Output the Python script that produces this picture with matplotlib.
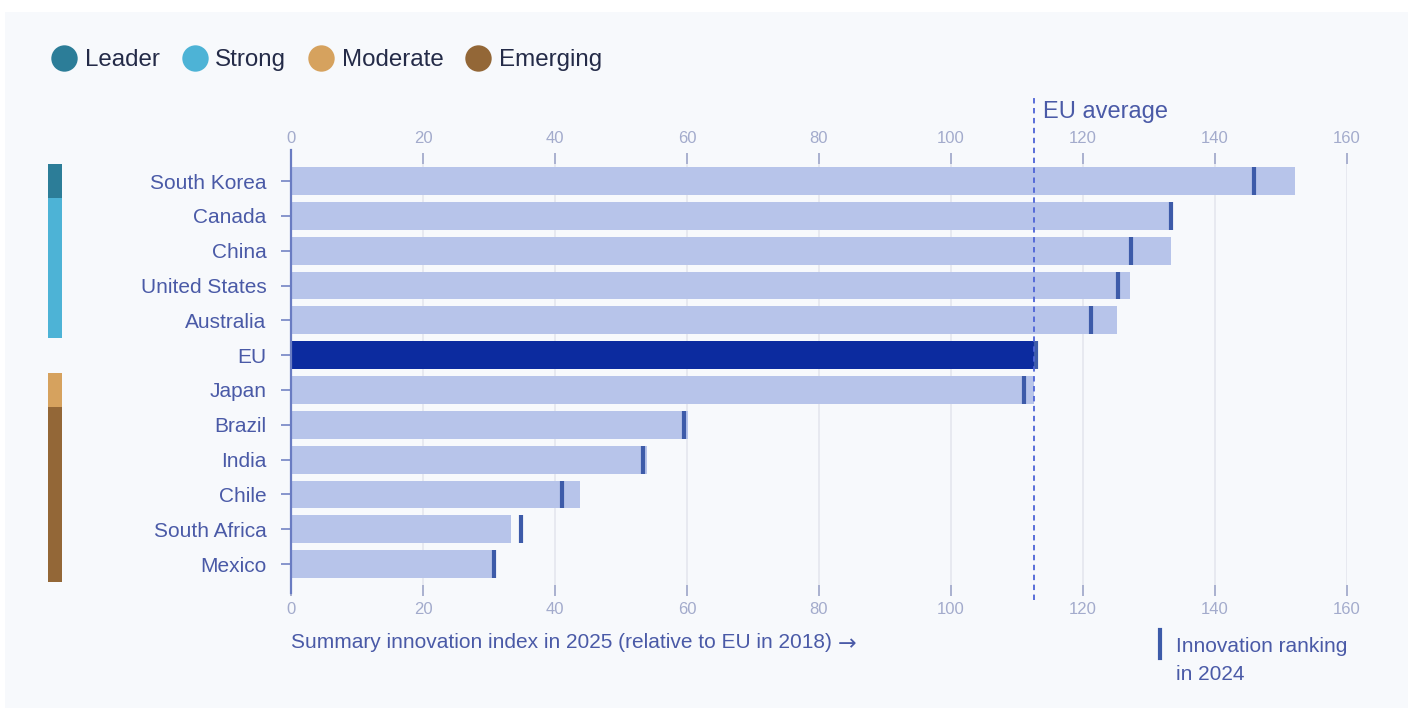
import numpy as np
import matplotlib.pyplot as plt
from matplotlib.patches import Rectangle
from matplotlib.lines import Line2D
import matplotlib.transforms as mtransforms

plt.rcParams['font.family'] = ['Liberation Sans', 'DejaVu Sans']

# Summary innovation index 2025 and 2024 ranking marker, top to bottom
countries = ['South Korea', 'Canada', 'China', 'United States', 'Australia', 'EU',
             'Japan', 'Brazil', 'India', 'Chile', 'South Africa', 'Mexico']
index_2025 = [152.1, 133.6, 133.3, 127.1, 125.1, 112.6, 112.5, 60.2, 54.0, 43.8, 33.3, 31.1]
rank_2024 = [145.9, 133.4, 127.3, 125.3, 121.2, 112.9, 111.0, 59.6, 53.4, 41.1, 34.9, 30.8]
group = ['Leader', 'Strong', 'Strong', 'Strong', 'Strong', None,
         'Moderate', 'Emerging', 'Emerging', 'Emerging', 'Emerging', 'Emerging']

group_names = ['Leader', 'Strong', 'Moderate', 'Emerging']
group_colors = {'Leader': '#2c7d98', 'Strong': '#4db3d6',
                'Moderate': '#d6a25e', 'Emerging': '#936737'}
xticks = [0, 20, 40, 60, 80, 100, 120, 140, 160]

bar_color = '#b7c4ea'
eu_color = '#0c2b9f'
mark_color = '#3d5ba9'
label_color = '#4a5aa7'
tick_color = '#a3abcc'

W, H = 1413, 711
fig = plt.figure(figsize=(W / 100, H / 100), dpi=100, facecolor='white')

# light panel behind everything
fig.patches.append(Rectangle((5 / W, 1 - 708 / H), 1403 / W, 696 / H,
                             transform=fig.transFigure, facecolor='#f7f9fc',
                             edgecolor='none', zorder=-10))

ax = fig.add_axes([291 / W, 1 - 585 / H, 1056 / W, 421 / H])
ax.set_facecolor('none')

y = np.arange(len(countries))
colors = [eu_color if c == 'EU' else bar_color for c in countries]
ax.barh(y, index_2025, height=0.8, color=colors, zorder=2)
ax.vlines(rank_2024, y - 0.4, y + 0.4, color=mark_color, lw=3, zorder=3)

ax.set_xlim(0, 160)
ax.set_ylim(11.6, -0.49)
ax.set_yticks(y)
ax.set_yticklabels(countries, fontsize=15, color=label_color)
ax.tick_params(axis='y', length=7, width=1.2, color='#7384c4', pad=10.5)

# bottom axis ticks
ax.set_xticks(xticks)
ax.tick_params(axis='x', length=8, width=1.3, color=tick_color, labelcolor=tick_color,
               labelsize=12, pad=4.3, direction='out')
# top axis ticks
top = ax.secondary_xaxis('top')
top.set_xticks(xticks)
top.tick_params(axis='x', length=8, width=1.3, color=tick_color, labelcolor=tick_color,
                labelsize=12, pad=5, direction='out')
top.spines['top'].set_visible(False)

for t in xticks[1:]:
    ax.axvline(t, color='#e4e6ee', lw=1.2, zorder=0)

for s in ax.spines.values():
    s.set_visible(False)
ax.add_line(Line2D([0, 0], [-0.89, 11.84], color='#6a7cc2', lw=1.6, clip_on=False, zorder=4))

# EU average reference line
eu_val = index_2025[countries.index('EU')]
trans = mtransforms.blended_transform_factory(ax.transData, ax.transAxes)
ax.add_line(Line2D([eu_val, eu_val], [-0.036, 1.159], transform=trans, color='#4d63d6',
                   lw=1.3, ls=(0, (3, 2.5)), clip_on=False, zorder=5))
ax.text(eu_val + 1.3, 1.124, 'EU average', transform=trans, fontsize=17,
        color=label_color, ha='left', va='center')

# group strip on the left
strip = mtransforms.blended_transform_factory(fig.transFigure, ax.transData)
for i, g in enumerate(group):
    if g is None:
        continue
    fig.patches.append(Rectangle((48 / W, i - 0.5), 14 / W, 1.0, transform=strip,
                                 facecolor=group_colors[g], edgecolor='none'))

handles = [Line2D([], [], ls='none', marker='o', markersize=19,
                  markerfacecolor=group_colors[g], markeredgecolor='none') for g in group_names]
leg = fig.legend(handles, group_names, loc='center left', bbox_to_anchor=(52 / W, 1 - 60 / H),
                 ncol=4, frameon=False, fontsize=17.4, handlelength=1.0, handletextpad=0.35,
                 columnspacing=0.95, borderaxespad=0, borderpad=0)
for t in leg.get_texts():
    t.set_color('#242b48')

fig.text(291 / W, 1 - 643 / H, 'Summary innovation index in 2025 (relative to EU in 2018)',
         fontsize=15, color=label_color, ha='left', va='center')
fig.text(838 / W, 1 - 644 / H, '\u2192', family='DejaVu Sans', fontsize=16,
         color=label_color, ha='left', va='center')
fig.add_artist(Line2D([1160 / W, 1160 / W], [1 - 630 / H, 1 - 658 / H],
                      transform=fig.transFigure, color=mark_color, lw=3))
fig.text(1176 / W, 1 - 660 / H, 'Innovation ranking\nin 2024', fontsize=15,
         color=label_color, ha='left', va='center', linespacing=1.6)

fig.savefig('out.png', dpi=100, facecolor='white')
